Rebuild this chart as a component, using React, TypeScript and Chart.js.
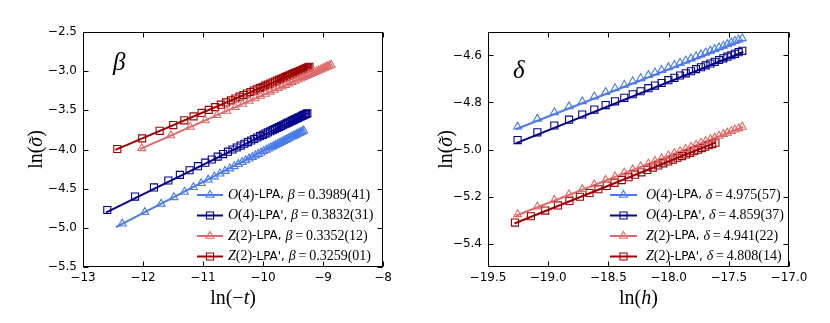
import React, { useEffect, useRef } from "react";
import { Chart, registerables } from "chart.js";
Chart.register(...registerables);

// ---------------- Left panel data: ln(-t) vs ln(sigma) ----------------
const leftO4LpaX = [-12.345, -11.970, -11.698, -11.485, -11.309, -11.159, -11.029, -10.914, -10.811, -10.718, -10.632, -10.553, -10.480, -10.412, -10.349, -10.289, -10.232, -10.179, -10.128, -10.080, -10.033, -9.989, -9.947, -9.907, -9.868, -9.830, -9.794, -9.759, -9.726, -9.693, -9.662, -9.631, -9.601, -9.573, -9.544, -9.517, -9.491, -9.465, -9.440, -9.415, -9.391, -9.368, -9.345, -9.322];
const leftO4LpaY = [-4.948, -4.801, -4.694, -4.610, -4.541, -4.482, -4.431, -4.386, -4.345, -4.308, -4.275, -4.244, -4.215, -4.188, -4.163, -4.140, -4.118, -4.097, -4.077, -4.058, -4.040, -4.022, -4.006, -3.990, -3.974, -3.960, -3.946, -3.932, -3.919, -3.906, -3.893, -3.881, -3.870, -3.858, -3.847, -3.837, -3.826, -3.816, -3.806, -3.797, -3.787, -3.778, -3.769, -3.760];
const leftO4LpapX = [-12.595, -12.132, -11.817, -11.578, -11.385, -11.224, -11.084, -10.962, -10.854, -10.755, -10.666, -10.584, -10.508, -10.438, -10.372, -10.310, -10.252, -10.197, -10.145, -10.096, -10.048, -10.003, -9.960, -9.919, -9.879, -9.841, -9.804, -9.769, -9.735, -9.701, -9.669, -9.638, -9.608, -9.579, -9.550, -9.523, -9.496, -9.470, -9.444, -9.419, -9.395, -9.371, -9.348, -9.326, -9.304, -9.282, -9.261];
const leftO4LpapY = [-4.772, -4.601, -4.484, -4.396, -4.324, -4.265, -4.213, -4.168, -4.128, -4.091, -4.058, -4.028, -4.000, -3.974, -3.950, -3.927, -3.905, -3.885, -3.866, -3.847, -3.830, -3.813, -3.797, -3.782, -3.767, -3.753, -3.739, -3.726, -3.714, -3.701, -3.690, -3.678, -3.667, -3.656, -3.646, -3.635, -3.625, -3.616, -3.606, -3.597, -3.588, -3.579, -3.571, -3.562, -3.554, -3.546, -3.538];
const leftZ2LpaX = [-12.022, -11.537, -11.211, -10.966, -10.769, -10.605, -10.464, -10.340, -10.230, -10.131, -10.041, -9.958, -9.882, -9.811, -9.745, -9.683, -9.624, -9.569, -9.517, -9.467, -9.419, -9.374, -9.331, -9.289, -9.249, -9.211, -9.174, -9.139, -9.104, -9.071, -9.039, -9.008, -8.978, -8.948, -8.920, -8.892, -8.865];
const leftZ2LpaY = [-3.985, -3.821, -3.712, -3.629, -3.563, -3.507, -3.460, -3.418, -3.381, -3.348, -3.317, -3.290, -3.264, -3.240, -3.218, -3.197, -3.177, -3.158, -3.141, -3.124, -3.108, -3.093, -3.078, -3.064, -3.051, -3.038, -3.025, -3.013, -3.002, -2.991, -2.980, -2.969, -2.959, -2.949, -2.940, -2.930, -2.921];
const leftZ2LpapX = [-12.428, -12.014, -11.722, -11.496, -11.312, -11.157, -11.023, -10.904, -10.798, -10.703, -10.615, -10.535, -10.460, -10.391, -10.326, -10.266, -10.208, -10.154, -10.103, -10.054, -10.007, -9.963, -9.920, -9.879, -9.840, -9.802, -9.765, -9.730, -9.696, -9.663, -9.632, -9.601, -9.571, -9.542, -9.514, -9.486, -9.460, -9.434, -9.408, -9.384, -9.359, -9.336, -9.313, -9.290, -9.268, -9.247, -9.226];
const leftZ2LpapY = [-3.994, -3.858, -3.762, -3.688, -3.628, -3.577, -3.533, -3.494, -3.459, -3.428, -3.399, -3.373, -3.349, -3.326, -3.305, -3.285, -3.266, -3.248, -3.231, -3.215, -3.200, -3.185, -3.171, -3.158, -3.145, -3.133, -3.121, -3.109, -3.098, -3.087, -3.077, -3.067, -3.057, -3.047, -3.038, -3.029, -3.020, -3.012, -3.004, -2.995, -2.988, -2.980, -2.972, -2.965, -2.958, -2.951, -2.944];
// fit lines (endpoints)
const leftFitO4LpaX = [-12.45, -9.32];
const leftFitO4LpaY = [-4.99, -3.745];
const leftFitO4LpapX = [-12.62, -9.25];
const leftFitO4LpapY = [-4.805, -3.535];
const leftFitZ2LpaX = [-12.05, -8.86];
const leftFitZ2LpaY = [-3.995, -2.92];
const leftFitZ2LpapX = [-12.46, -9.22];
const leftFitZ2LpapY = [-4.005, -2.944];
const leftXTicks = [-13, -12, -11, -10, -9, -8];
const leftYTicks = [-5.5, -5.0, -4.5, -4.0, -3.5, -3.0, -2.5];
const leftLegendValues = ["0.3989(41)", "0.3832(31)", "0.3352(12)", "0.3259(01)"];

// ---------------- Right panel data: ln(h) vs ln(sigma) ----------------
const rightHX = [-19.254, -19.090, -18.949, -18.827, -18.717, -18.617, -18.523, -18.445, -18.368, -18.298, -18.232, -18.168, -18.113, -18.058, -18.002, -17.952, -17.905, -17.858, -17.814, -17.772, -17.731, -17.692, -17.653, -17.617, -17.581, -17.545, -17.512, -17.479, -17.449, -17.418, -17.388];
const rightO4LpaY = [-4.903, -4.870, -4.842, -4.817, -4.795, -4.775, -4.756, -4.740, -4.725, -4.710, -4.697, -4.684, -4.673, -4.662, -4.651, -4.641, -4.631, -4.622, -4.613, -4.604, -4.596, -4.588, -4.580, -4.573, -4.566, -4.559, -4.552, -4.545, -4.539, -4.533, -4.527];
const rightO4LpapY = [-4.960, -4.927, -4.898, -4.873, -4.851, -4.830, -4.811, -4.795, -4.780, -4.765, -4.752, -4.739, -4.728, -4.717, -4.705, -4.695, -4.685, -4.676, -4.667, -4.658, -4.650, -4.642, -4.634, -4.627, -4.619, -4.612, -4.605, -4.599, -4.593, -4.586, -4.580];
const rightZ2LpaY = [-5.276, -5.243, -5.215, -5.191, -5.169, -5.149, -5.130, -5.115, -5.099, -5.085, -5.072, -5.060, -5.049, -5.038, -5.026, -5.016, -5.007, -4.998, -4.989, -4.981, -4.972, -4.965, -4.957, -4.950, -4.942, -4.935, -4.929, -4.922, -4.916, -4.910, -4.904];
const rightZ2LpapX = [-19.276, -19.143, -19.025, -18.919, -18.824, -18.737, -18.657, -18.583, -18.514, -18.449, -18.389, -18.332, -18.278, -18.226, -18.177, -18.131, -18.086, -18.044, -18.003, -17.964, -17.926, -17.890, -17.855, -17.821, -17.788, -17.756, -17.725, -17.696, -17.667, -17.638, -17.611];
const rightZ2LpapY = [-5.311, -5.284, -5.260, -5.238, -5.219, -5.201, -5.185, -5.169, -5.155, -5.142, -5.130, -5.118, -5.107, -5.097, -5.087, -5.077, -5.068, -5.059, -5.051, -5.043, -5.035, -5.028, -5.021, -5.014, -5.007, -5.001, -4.994, -4.988, -4.982, -4.977, -4.971];
const rightFitO4LpaX = [-19.27, -17.38];
const rightFitO4LpaY = [-4.914, -4.535];
const rightFitO4LpapX = [-19.27, -17.38];
const rightFitO4LpapY = [-4.974, -4.585];
const rightFitZ2LpaX = [-19.27, -17.38];
const rightFitZ2LpaY = [-5.282, -4.904];
const rightFitZ2LpapX = [-19.28, -17.61];
const rightFitZ2LpapY = [-5.315, -4.970];
const rightXTicks = [-19.5, -19.0, -18.5, -18.0, -17.5, -17.0];
const rightYTicks = [-5.4, -5.2, -5.0, -4.8, -4.6];
const rightLegendValues = ["4.975(57)", "4.859(37)", "4.941(22)", "4.808(14)"];

const seriesModels = ["O", "O", "Z", "Z"];
const seriesGroups = ["(4)", "(4)", "(2)", "(2)"];
const seriesSchemes = ["-LPA", "-LPA'", "-LPA", "-LPA'"];

// ---------------- styles ----------------
const COLORS = ["#4a7be8", "#00008b", "#df6a6a", "#9c0000"];
const SHAPES = ["triangle", "rect", "triangle", "rect"];
const SERIF = '"Liberation Serif", "DejaVu Serif", serif';
const SANS = '"DejaVu Sans", sans-serif';

type Part = [string, string];

function fmtTick(v: number, d: number) {
  const s = Math.abs(v).toFixed(d);
  return v < -1e-9 ? "\u2212" + s : s;
}

function partsWidth(ctx: CanvasRenderingContext2D, parts: Part[]) {
  let w = 0;
  for (const [t, f] of parts) {
    ctx.font = f;
    w += ctx.measureText(t).width;
  }
  return w;
}

function drawParts(ctx: CanvasRenderingContext2D, parts: Part[], x: number, y: number) {
  let cx = x;
  for (const [t, f] of parts) {
    ctx.font = f;
    ctx.fillText(t, cx, y);
    cx += ctx.measureText(t).width;
  }
  return cx;
}

function drawMarker(ctx: CanvasRenderingContext2D, shape: string, x: number, y: number, r: number) {
  ctx.beginPath();
  if (shape === "triangle") {
    ctx.moveTo(x, y - r);
    ctx.lineTo(x + 0.866 * r, y + 0.5 * r);
    ctx.lineTo(x - 0.866 * r, y + 0.5 * r);
    ctx.closePath();
  } else {
    const s = Math.SQRT1_2 * r;
    ctx.rect(x - s, y - s, 2 * s, 2 * s);
  }
  ctx.stroke();
}

interface Panel {
  xMin: number; xMax: number; yMin: number; yMax: number;
  xTicks: number[]; yTicks: number[]; xDec: number; yDec: number;
  yAxisWidth: number; padRight: number;
  xs: number[][]; ys: number[][]; fitXs: number[][]; fitYs: number[][];
  greek: string; greekPos: [number, number];
  legendLine: [number, number, number]; legendRows: number[];
  legendValues: string[];
  xTitle: Part[]; yTitleX: number;
}

const TITLE_SIZE = 20;
const LEG_SERIF = 14;

const leftPanel: Panel = {
  xMin: -13, xMax: -8, yMin: -5.5, yMax: -2.5,
  xTicks: leftXTicks, yTicks: leftYTicks, xDec: 0, yDec: 1,
  yAxisWidth: 83, padRight: 32,
  xs: [leftO4LpaX, leftO4LpapX, leftZ2LpaX, leftZ2LpapX],
  ys: [leftO4LpaY, leftO4LpapY, leftZ2LpaY, leftZ2LpapY],
  fitXs: [leftFitO4LpaX, leftFitO4LpapX, leftFitZ2LpaX, leftFitZ2LpapX],
  fitYs: [leftFitO4LpaY, leftFitO4LpapY, leftFitZ2LpaY, leftFitZ2LpapY],
  greek: "\u03b2", greekPos: [113, 70],
  legendLine: [197, 223, 228], legendRows: [195, 215.5, 236, 256.5],
  legendValues: leftLegendValues,
  xTitle: [["ln(\u2212", `${TITLE_SIZE}px ${SERIF}`], ["t", `italic ${TITLE_SIZE}px ${SERIF}`], [")", `${TITLE_SIZE}px ${SERIF}`]],
  yTitleX: 35,
};

const rightPanel: Panel = {
  xMin: -19.5, xMax: -17, yMin: -5.5, yMax: -4.5,
  xTicks: rightXTicks, yTicks: rightYTicks, xDec: 1, yDec: 1,
  yAxisWidth: 73, padRight: 41,
  xs: [rightHX, rightHX, rightHX, rightZ2LpapX],
  ys: [rightO4LpaY, rightO4LpapY, rightZ2LpaY, rightZ2LpapY],
  fitXs: [rightFitO4LpaX, rightFitO4LpapX, rightFitZ2LpaX, rightFitZ2LpapX],
  fitYs: [rightFitO4LpaY, rightFitO4LpapY, rightFitZ2LpaY, rightFitZ2LpapY],
  greek: "\u03b4", greekPos: [98, 78],
  legendLine: [195, 222, 231], legendRows: [195, 215.5, 236, 256.5],
  legendValues: rightLegendValues,
  xTitle: [["ln(", `${TITLE_SIZE}px ${SERIF}`], ["h", `italic ${TITLE_SIZE}px ${SERIF}`], [")", `${TITLE_SIZE}px ${SERIF}`]],
  yTitleX: 30,
};

function decorPlugin(p: Panel) {
  return {
    id: "decor",
    afterDraw(chart: any) {
      const ctx: CanvasRenderingContext2D = chart.ctx;
      const a = chart.chartArea;
      const xs = chart.scales.x;
      const ys = chart.scales.y;
      const L = Math.round(a.left) + 0.5;
      const R = Math.round(a.right) - 0.5;
      const T = Math.round(a.top) + 0.5;
      const B = Math.round(a.bottom) - 0.5;
      ctx.save();
      ctx.strokeStyle = "#000";
      ctx.lineWidth = 1;
      ctx.beginPath();
      for (const v of p.xTicks) {
        const px = Math.round(xs.getPixelForValue(v)) + 0.5;
        ctx.moveTo(px, B); ctx.lineTo(px, B - 5);
        ctx.moveTo(px, T); ctx.lineTo(px, T + 5);
      }
      for (const v of p.yTicks) {
        const py = Math.round(ys.getPixelForValue(v)) + 0.5;
        ctx.moveTo(L, py); ctx.lineTo(L + 5, py);
        ctx.moveTo(R, py); ctx.lineTo(R - 5, py);
      }
      ctx.stroke();
      ctx.strokeRect(L, T, R - L, B - T);

      // axis titles
      ctx.fillStyle = "#000";
      ctx.textBaseline = "alphabetic";
      ctx.textAlign = "left";
      const cx = (a.left + a.right) / 2;
      const w = partsWidth(ctx, p.xTitle);
      drawParts(ctx, p.xTitle, cx - w / 2, 304);

      const upright = `${TITLE_SIZE}px ${SERIF}`;
      const italic = `italic ${TITLE_SIZE}px ${SERIF}`;
      const yParts: Part[] = [["ln(", upright], ["\u03c3", italic], [")", upright]];
      const yw = partsWidth(ctx, yParts);
      ctx.save();
      ctx.translate(p.yTitleX + 7, (a.top + a.bottom) / 2);
      ctx.rotate(-Math.PI / 2);
      const x0 = -yw / 2;
      ctx.font = upright;
      const wLn = ctx.measureText("ln(").width;
      ctx.font = italic;
      const wSig = ctx.measureText("\u03c3").width;
      drawParts(ctx, yParts, x0, 0);
      // tilde accent above sigma
      ctx.font = upright;
      ctx.textAlign = "center";
      ctx.fillText("\u02dc", x0 + wLn + wSig / 2 + 1, 1);
      ctx.restore();

      // greek label
      ctx.textAlign = "left";
      ctx.font = `italic 25px ${SERIF}`;
      ctx.fillText(p.greek, p.greekPos[0], p.greekPos[1]);

      // legend
      const [lx1, lx2, tx] = p.legendLine;
      ctx.textBaseline = "middle";
      for (let i = 0; i < 4; i++) {
        const y = p.legendRows[i];
        ctx.strokeStyle = COLORS[i];
        ctx.lineWidth = 2;
        ctx.beginPath();
        ctx.moveTo(lx1, y); ctx.lineTo(lx2, y);
        ctx.stroke();
        ctx.lineWidth = 1.1;
        drawMarker(ctx, SHAPES[i], (lx1 + lx2) / 2, y, SHAPES[i] === "rect" ? 5 : 4.6);
        ctx.fillStyle = "#000";
        const parts: Part[] = [
          [seriesModels[i], `italic ${LEG_SERIF}px ${SERIF}`],
          [seriesGroups[i], `${LEG_SERIF}px ${SERIF}`],
          [seriesSchemes[i] + ",", `12px ${SANS}`],
          [" ", `12px ${SANS}`],
          [p.greek, `italic ${LEG_SERIF}px ${SERIF}`],
          ["\u2009=\u2009", `${LEG_SERIF}px ${SERIF}`],
          [p.legendValues[i], `${LEG_SERIF}px ${SERIF}`],
        ];
        drawParts(ctx, parts, tx, y);
      }
      ctx.restore();
    },
  };
}

function buildConfig(p: Panel): any {
  const datasets: any[] = [];
  for (let i = 0; i < 4; i++) {
    datasets.push({
      type: "scatter",
      data: p.xs[i].map((x, k) => ({ x, y: p.ys[i][k] })),
      pointStyle: SHAPES[i],
      pointRadius: SHAPES[i] === "rect" ? 5 : 4.6,
      pointBorderWidth: 1.1,
      borderColor: COLORS[i],
      backgroundColor: "rgba(0,0,0,0)",
      pointBackgroundColor: "rgba(0,0,0,0)",
      showLine: false,
      order: 0,
    });
    datasets.push({
      type: "line",
      data: p.fitXs[i].map((x, k) => ({ x, y: p.fitYs[i][k] })),
      borderColor: COLORS[i],
      borderWidth: 2,
      pointRadius: 0,
      fill: false,
      order: 1,
    });
  }
  const tickFont = { family: "DejaVu Sans", size: 12 };
  return {
    type: "scatter",
    data: { datasets },
    options: {
      animation: false,
      responsive: false,
      maintainAspectRatio: false,
      events: [],
      layout: { padding: { left: 0, top: 32, right: p.padRight, bottom: 0 } },
      plugins: { legend: { display: false }, tooltip: { enabled: false }, title: { display: false } },
      scales: {
        x: {
          type: "linear", position: "bottom", min: p.xMin, max: p.xMax,
          afterBuildTicks: (s: any) => { s.ticks = p.xTicks.map((v) => ({ value: v })); },
          ticks: { callback: (v: number) => fmtTick(v, p.xDec), font: tickFont, color: "#000", padding: 4, maxRotation: 0, autoSkip: false },
          grid: { display: false, drawTicks: false },
          border: { display: false },
          afterFit: (s: any) => { s.height = 56; s.paddingLeft = 0; s.paddingRight = 0; },
        },
        y: {
          type: "linear", position: "left", min: p.yMin, max: p.yMax,
          afterBuildTicks: (s: any) => { s.ticks = p.yTicks.map((v) => ({ value: v })); },
          ticks: { callback: (v: number) => fmtTick(v, p.yDec), font: tickFont, color: "#000", padding: 6, autoSkip: false },
          grid: { display: false, drawTicks: false },
          border: { display: false },
          afterFit: (s: any) => { s.width = p.yAxisWidth; s.paddingTop = 0; s.paddingBottom = 0; },
        },
      },
    },
    plugins: [decorPlugin(p)],
  };
}

function PanelChart({ panel, left }: { panel: Panel; left: number }) {
  const ref = useRef<HTMLCanvasElement | null>(null);
  useEffect(() => {
    if (!ref.current) return;
    const chart = new Chart(ref.current, buildConfig(panel));
    return () => chart.destroy();
  }, [panel]);
  return (
    <canvas
      ref={ref}
      width={415}
      height={323}
      style={{ position: "absolute", left, top: 0, width: 415, height: 323 }}
    />
  );
}

export default function App() {
  return (
    <div style={{ position: "fixed", left: 0, top: 0, width: 830, height: 323, background: "#fff" }}>
      <PanelChart panel={leftPanel} left={0} />
      <PanelChart panel={rightPanel} left={415} />
    </div>
  );
}
